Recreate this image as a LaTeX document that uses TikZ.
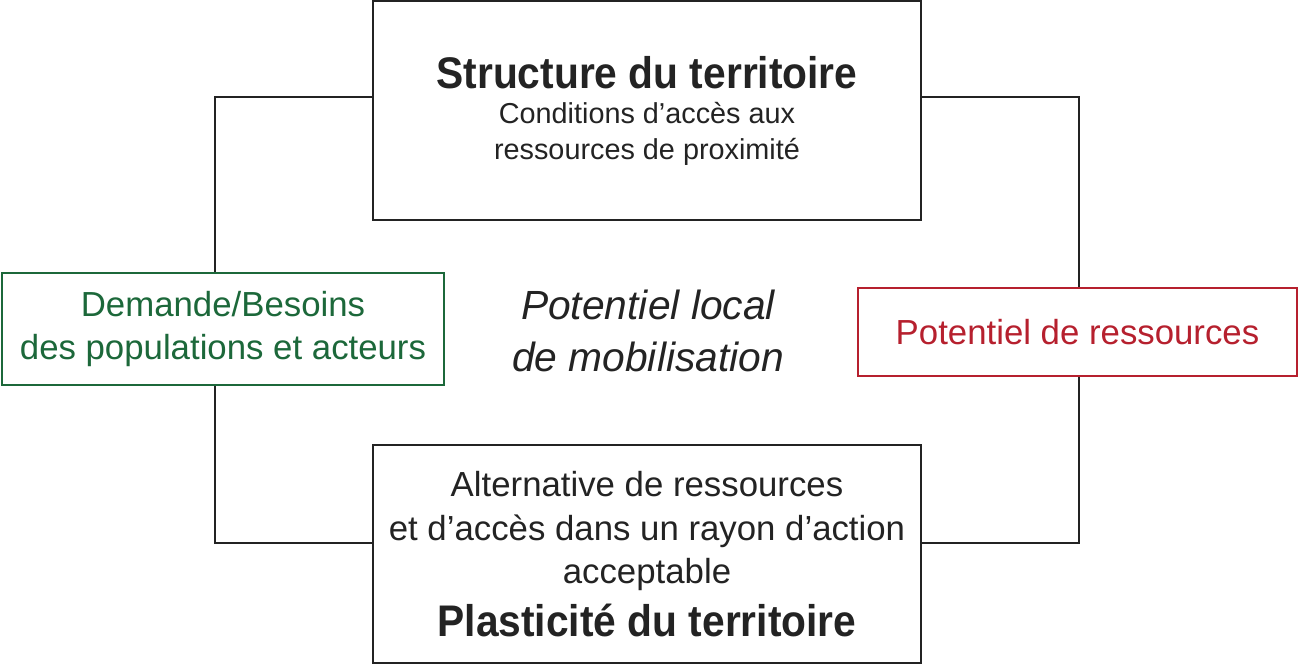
\documentclass[tikz,border=0pt]{standalone}
\usepackage{fontspec}
\setmainfont{Liberation Sans}
\newfontfamily\titlefont[FakeStretch=0.92]{Liberation Sans}
\usepackage{xcolor}
\usetikzlibrary{calc}
\definecolor{BesoinGreen}{RGB}{28,104,58}
\definecolor{RessourceRed}{RGB}{182,32,46}
\definecolor{LineGray}{RGB}{35,35,35}
\newcommand{\boxtitle}[1]{{\titlefont\bfseries\fontsize{25.2}{30}\selectfont #1}}

\begin{document}
\begin{tikzpicture}[x=0.02cm, y=-0.02cm,
        box/.style={draw=LineGray, line width=1.6pt, rectangle, align=center, inner sep=0pt, text=LineGray},
        link/.style={draw=LineGray, line width=1.6pt}]
        \useasboundingbox (0,0) rectangle (1299,666);

        % Boxes
        \node[box, minimum width=10.96cm, minimum height=4.38cm,
              font=\fontsize{16.4}{20.2}\selectfont] (terr) at (647,110.5)
            {\boxtitle{Structure du territoire}\\Conditions d’accès aux\\ressources de proximité};
        \node[box, minimum width=10.96cm, minimum height=4.36cm,
              font=\fontsize{19.8}{25}\selectfont] (plast) at (647,554)
            {Alternative de ressources\\et d’accès dans un rayon d’action\\acceptable\\[5pt]\boxtitle{Plasticité du territoire}};
        \node[box, draw=BesoinGreen, text=BesoinGreen, minimum width=8.84cm, minimum height=2.24cm,
              font=\fontsize{19.8}{24.8}\selectfont] (besoins) at (223,329)
            {Demande/Besoins\\des populations et acteurs};
        \node[box, draw=RessourceRed, text=RessourceRed, minimum width=8.78cm, minimum height=1.76cm,
              font=\fontsize{19.8}{19.8}\selectfont] (ressources) at (1077.5,332)
            {Potentiel de ressources};

        % Centre
        \node[align=center, text=LineGray, font=\itshape\fontsize{23.2}{29.5}\selectfont] (potentiel) at (648,331)
            {Potentiel local\\de mobilisation};

        % Connectors
        \coordinate (tl) at (215,97);
        \coordinate (bl) at (215,543);
        \coordinate (tr) at (1079,97);
        \coordinate (br) at (1079,543);
        \draw[link] (terr.west |- tl) -- (tl) -- (tl |- besoins.north);
        \draw[link] (besoins.south -| bl) -- (bl) -- (plast.west |- bl);
        \draw[link] (terr.east |- tr) -- (tr) -- (tr |- ressources.north);
        \draw[link] (ressources.south -| br) -- (br) -- (plast.east |- br);
    \end{tikzpicture}
\end{document}
